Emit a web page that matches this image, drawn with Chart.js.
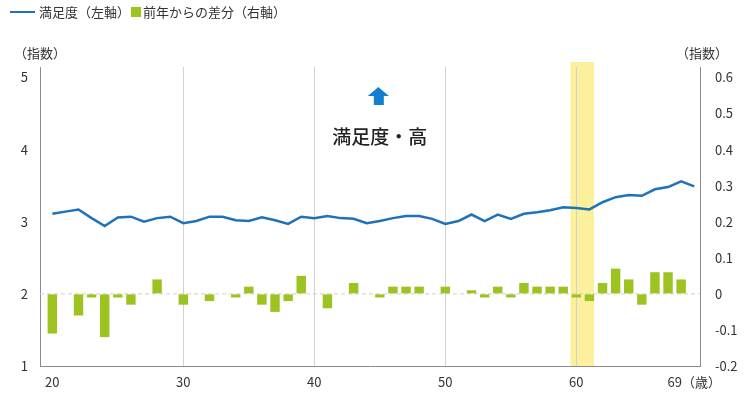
<!DOCTYPE html>
<html lang="ja">
<head>
<meta charset="utf-8">
<script src="https://cdn.jsdelivr.net/npm/chart.js@4.4.1/dist/chart.umd.min.js"></script>
<style>
  html, body { margin: 0; padding: 0; background: #fff; }
  #chart { display: block; }
</style>
</head>
<body>
<canvas id="chart" width="750" height="402"></canvas>
<script>
/* 年齢（歳） */
const ages = [
  20, 21, 22, 23, 24, 25, 26, 27, 28, 29,
  30, 31, 32, 33, 34, 35, 36, 37, 38, 39,
  40, 41, 42, 43, 44, 45, 46, 47, 48, 49,
  50, 51, 52, 53, 54, 55, 56, 57, 58, 59,
  60, 61, 62, 63, 64, 65, 66, 67, 68, 69,
];

/* 満足度（左軸） */
const satisfaction = [
  3.11, 3.14, 3.17, 3.05, 2.94, 3.06, 3.07, 3.00, 3.05, 3.07,
  2.98, 3.01, 3.07, 3.07, 3.02, 3.01, 3.06, 3.02, 2.97, 3.07,
  3.05, 3.08, 3.05, 3.04, 2.98, 3.01, 3.05, 3.08, 3.08, 3.04,
  2.97, 3.01, 3.10, 3.01, 3.10, 3.04, 3.11, 3.13, 3.16, 3.20,
  3.19, 3.17, 3.27, 3.34, 3.37, 3.36, 3.45, 3.48, 3.56, 3.49,
];

/* 前年からの差分（右軸） */
const diff = [
  -0.11, 0, -0.06, -0.01, -0.12, -0.01, -0.03, 0, 0.04, 0,
  -0.03, 0, -0.02, 0, -0.01, 0.02, -0.03, -0.05, -0.02, 0.05,
  0, -0.04, 0, 0.03, 0, -0.01, 0.02, 0.02, 0.02, 0,
  0.02, 0, 0.01, -0.01, 0.02, -0.01, 0.03, 0.02, 0.02, 0.02,
  -0.01, -0.02, 0.03, 0.07, 0.04, -0.03, 0.06, 0.06, 0.04, 0,
];

/* 目盛り */
const xTicks = [20, 30, 40, 50, 60, 69];
const leftTicks = [1, 2, 3, 4, 5];
const rightTicks = [-0.2, -0.1, 0, 0.1, 0.2, 0.3, 0.4, 0.5, 0.6];

/* 60歳前後の強調帯 */
const highlight = [59.55, 61.35];

const FONT = '"Noto Sans CJK JP", "Noto Sans", sans-serif';
const BLUE = '#1f72b8';
const GREEN = '#9cc31f';

Chart.defaults.font.family = FONT;
Chart.defaults.font.size = 13;
Chart.defaults.color = '#333';

/* 強調帯・ゼロ線・凡例・注記を描くプラグイン */
const decor = {
  id: 'decor',
  beforeDraw(chart) {
    const { ctx, chartArea, scales } = chart;
    const x0 = scales.x.getPixelForValue(highlight[0]);
    const x1 = scales.x.getPixelForValue(highlight[1]);
    ctx.save();
    ctx.fillStyle = '#fdf09c';
    ctx.fillRect(x0, chartArea.top - 5, x1 - x0, chartArea.bottom - chartArea.top + 5);
    ctx.restore();
  },
  beforeDatasetsDraw(chart) {
    const { ctx, chartArea, scales } = chart;
    const y = scales.y1.getPixelForValue(0);
    ctx.save();
    ctx.strokeStyle = '#cfcfcf';
    ctx.lineWidth = 1;
    ctx.setLineDash([4, 3]);
    ctx.beginPath();
    ctx.moveTo(chartArea.left, y);
    ctx.lineTo(chartArea.right, y);
    ctx.stroke();
    ctx.restore();
  },
  afterDraw(chart) {
    const { ctx, chartArea, scales } = chart;
    const sets = chart.data.datasets;
    ctx.save();
    ctx.font = '13px ' + FONT;
    ctx.textBaseline = 'middle';
    ctx.fillStyle = '#333';

    /* 凡例 */
    let lx = 10;
    ctx.strokeStyle = sets[0].borderColor;
    ctx.lineWidth = 2;
    ctx.beginPath();
    ctx.moveTo(lx, 12);
    ctx.lineTo(lx + 25, 12);
    ctx.stroke();
    lx += 29;
    ctx.fillText(sets[0].label, lx, 12);
    lx += ctx.measureText(sets[0].label).width + 1;
    ctx.fillStyle = sets[1].backgroundColor;
    ctx.fillRect(lx, 7, 10, 10);
    lx += 12;
    ctx.fillStyle = '#333';
    ctx.fillText(sets[1].label, lx, 12);

    /* 軸の単位 */
    ctx.textAlign = 'center';
    ctx.fillText('（指数）', chartArea.left, 53);
    ctx.fillText('（指数）', chartArea.right + 2, 53);

    /* 矢印と注記 */
    const cx = scales.x.getPixelForValue(45);
    const top = chartArea.top;
    ctx.fillStyle = '#117fcf';
    ctx.beginPath();
    ctx.moveTo(cx - 1.5, top + 20);
    ctx.lineTo(cx + 9, top + 29);
    ctx.lineTo(cx + 4, top + 29);
    ctx.lineTo(cx + 4, top + 38);
    ctx.lineTo(cx - 6, top + 38);
    ctx.lineTo(cx - 6, top + 29);
    ctx.lineTo(cx - 12, top + 29);
    ctx.closePath();
    ctx.fill();

    ctx.fillStyle = '#222';
    ctx.font = '500 19px ' + FONT;
    ctx.fillText('満足度・高', cx, top + 70);
    ctx.restore();
  },
};

const config = {
  data: {
    datasets: [
      {
        type: 'line',
        label: '満足度（左軸）',
        data: ages.map((a, i) => ({ x: a, y: satisfaction[i] })),
        yAxisID: 'y',
        borderColor: BLUE,
        borderWidth: 2.5,
        pointRadius: 0,
        tension: 0,
        order: 0,
      },
      {
        type: 'bar',
        label: '前年からの差分（右軸）',
        data: ages.map((a, i) => ({ x: a, y: diff[i] })),
        yAxisID: 'y1',
        backgroundColor: GREEN,
        barPercentage: 0.72,
        categoryPercentage: 1,
        order: 1,
      },
    ],
  },
  options: {
    responsive: false,
    animation: false,
    layout: { padding: { top: 67, left: 0, right: 0, bottom: 0 } },
    plugins: {
      legend: { display: false },
      tooltip: { enabled: false },
    },
    scales: {
      x: {
        type: 'linear',
        offset: false,
        min: 19.06,
        max: 69.44,
        afterBuildTicks: (scale) => {
          scale.ticks = xTicks.map((v) => ({ value: v }));
        },
        afterFit: (scale) => {
          scale.height = 36;
        },
        ticks: {
          autoSkip: false,
          maxRotation: 0,
          padding: 8,
          color: '#333',
          callback: (v) => (v === 69 ? '69（歳）' : String(v)),
        },
        grid: {
          offset: false,
          drawTicks: false,
          color: (c) => ([30, 40, 50, 60].includes(c.tick && c.tick.value) ? '#d2d2d2' : 'transparent'),
        },
        border: { color: '#8c8c8c' },
      },
      y: {
        position: 'left',
        min: 1,
        max: 5.145,
        afterBuildTicks: (scale) => {
          scale.ticks = leftTicks.map((v) => ({ value: v }));
        },
        afterFit: (scale) => {
          scale.width = 40;
        },
        ticks: { padding: 12, color: '#333' },
        grid: { drawTicks: false, color: 'transparent' },
        border: { color: '#8c8c8c' },
      },
      y1: {
        position: 'right',
        min: -0.2,
        max: 0.629,
        afterBuildTicks: (scale) => {
          scale.ticks = rightTicks.map((v) => ({ value: v }));
        },
        afterFit: (scale) => {
          scale.width = 50;
        },
        ticks: {
          padding: 15,
          color: '#333',
          callback: (v) => (Math.abs(v) < 1e-9 ? '0' : v.toFixed(1)),
        },
        grid: { drawTicks: false, color: 'transparent', drawOnChartArea: false },
        border: { color: '#8c8c8c' },
      },
    },
  },
  plugins: [decor],
};

new Chart(document.querySelector('#chart'), config);
</script>
</body>
</html>
